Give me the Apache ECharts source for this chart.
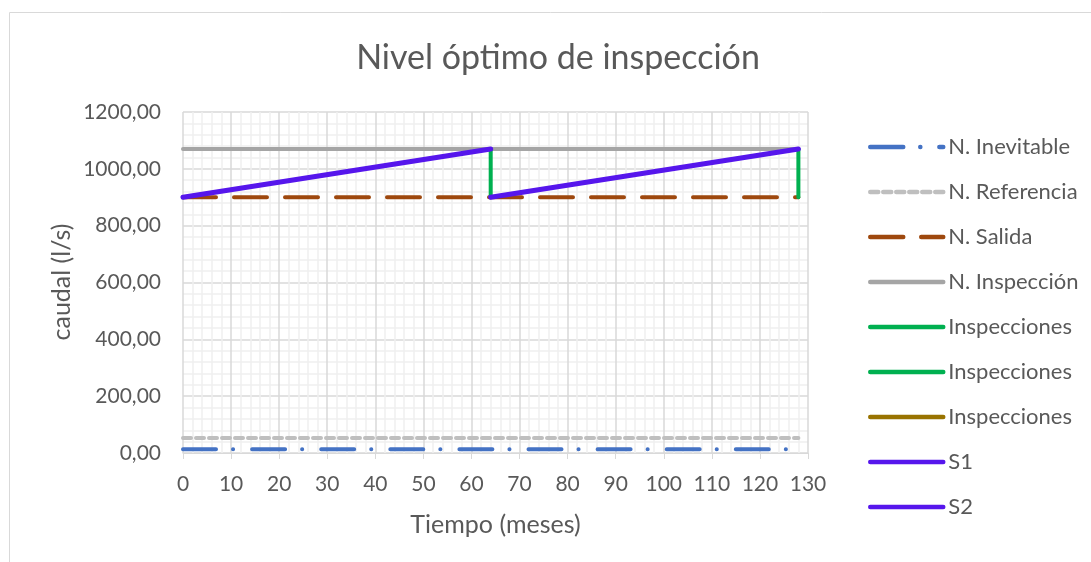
<!DOCTYPE html>
<html>
<head>
<meta charset="utf-8">
<script src="https://cdn.jsdelivr.net/npm/echarts@6/dist/echarts.min.js"></script>
<style>
  html, body { margin: 0; padding: 0; background: #fff; }
  #chart { width: 1091px; height: 562px; }
</style>
</head>
<body>
<div id="chart"></div>
<script>
// datos
const tiempoNiveles = [0, 128]
const nInevitable = [13, 13]
const nReferencia = [53, 53]
const nSalida = [900, 900]
const nInspeccion = [1070, 1070]

const tiempoInsp1 = [64, 64]
const tiempoInsp2 = [128, 128]
const tiempoInsp3 = [192, 192]
const caudalInsp = [900, 1070]

const tiempoS1 = [0, 64]
const tiempoS2 = [64, 128]
const caudalS = [900, 1070]

const pares = (xs, ys) => xs.map((x, i) => [x, ys[i]])

const fuente = 'Lato, "Open Sans", sans-serif'
const gris = '#595959'

const linea = (name, data, color, width, dash) => ({
  name,
  type: 'line',
  data,
  symbol: 'none',
  lineStyle: { color, width, type: dash || 'solid', cap: 'round' },
  itemStyle: { color },
  animation: false
})

const chart = echarts.init(document.getElementById('chart'))

chart.setOption({
  textStyle: { fontFamily: fuente },
  title: {
    text: 'Nivel óptimo de inspección',
    left: 553,
    top: 36,
    textAlign: 'center',
    textStyle: { fontSize: 34, fontWeight: 'normal', color: gris, fontFamily: fuente }
  },
  graphic: [{
    type: 'rect',
    shape: { x: 9.5, y: 12.5, width: 1100, height: 600 },
    style: { fill: 'none', stroke: '#d9d9d9', lineWidth: 1 },
    silent: true
  }, {
    // titulo del eje y
    type: 'text',
    x: 62,
    y: 282,
    rotation: Math.PI / 2,
    style: {
      text: 'caudal (l/s)',
      fill: gris,
      font: '25px ' + fuente,
      align: 'center',
      verticalAlign: 'middle'
    },
    silent: true
  }],
  legend: {
    orient: 'vertical',
    left: 863,
    top: 131,
    itemWidth: 73,
    itemHeight: 24,
    itemGap: 23,
    itemStyle: { opacity: 0 },
    lineStyle: { width: 4.5, cap: 'round' },
    textStyle: { fontSize: 22, color: gris, fontFamily: fuente },
    data: ['N. Inevitable', 'N. Referencia', 'N. Salida', 'N. Inspección',
      'Inspecciones', 'Inspecciones ', 'Inspecciones  ', 'S1', 'S2'],
    formatter: n => n.trim()
  },
  grid: { left: 183, right: 283, top: 112, bottom: 109 },
  xAxis: {
    type: 'value',
    min: 0,
    max: 130,
    interval: 10,
    name: 'Tiempo (meses)',
    nameLocation: 'middle',
    nameGap: 59,
    nameTextStyle: { fontSize: 25, color: gris },
    axisLine: { show: true, lineStyle: { color: '#d9d9d9' } },
    axisTick: { show: true, length: 6, lineStyle: { color: '#d9d9d9' } },
    axisLabel: { fontSize: 21, color: gris, margin: 21 },
    splitLine: { show: true, lineStyle: { color: '#d9d9d9', width: 1.5 } },
    minorTick: { show: false, splitNumber: 5 },
    minorSplitLine: { show: true, lineStyle: { color: '#f0f0f0', width: 1.5 } }
  },
  yAxis: {
    type: 'value',
    min: 0,
    max: 1200,
    interval: 200,
    axisLine: { show: false },
    axisTick: { show: false },
    axisLabel: {
      fontSize: 21,
      color: gris,
      margin: 22,
      formatter: v => v.toFixed(2).replace('.', ',')
    },
    splitLine: { show: true, lineStyle: { color: '#d9d9d9', width: 1.5 } },
    minorTick: { show: false, splitNumber: 5 },
    minorSplitLine: { show: true, lineStyle: { color: '#f0f0f0', width: 1.5 } }
  },
  series: [
    linea('N. Inevitable', pares(tiempoNiveles, nInevitable), '#4472c4', 4, [33, 17, 0.1, 19]),
    linea('N. Referencia', pares(tiempoNiveles, nReferencia), '#bfbfbf', 4, [8, 5]),
    linea('N. Salida', pares(tiempoNiveles, nSalida), '#9e480e', 4, [33, 18]),
    linea('N. Inspección', pares(tiempoNiveles, nInspeccion), '#a5a5a5', 4),
    linea('Inspecciones', pares(tiempoInsp1, caudalInsp), '#00b050', 4),
    linea('Inspecciones ', pares(tiempoInsp2, caudalInsp), '#00b050', 4),
    linea('Inspecciones  ', pares(tiempoInsp3, caudalInsp), '#997300', 4),
    linea('S1', pares(tiempoS1, caudalS), '#5616ec', 5),
    linea('S2', pares(tiempoS2, caudalS), '#5616ec', 5)
  ]
})

window.addEventListener('resize', () => chart.resize())
</script>
</body>
</html>
